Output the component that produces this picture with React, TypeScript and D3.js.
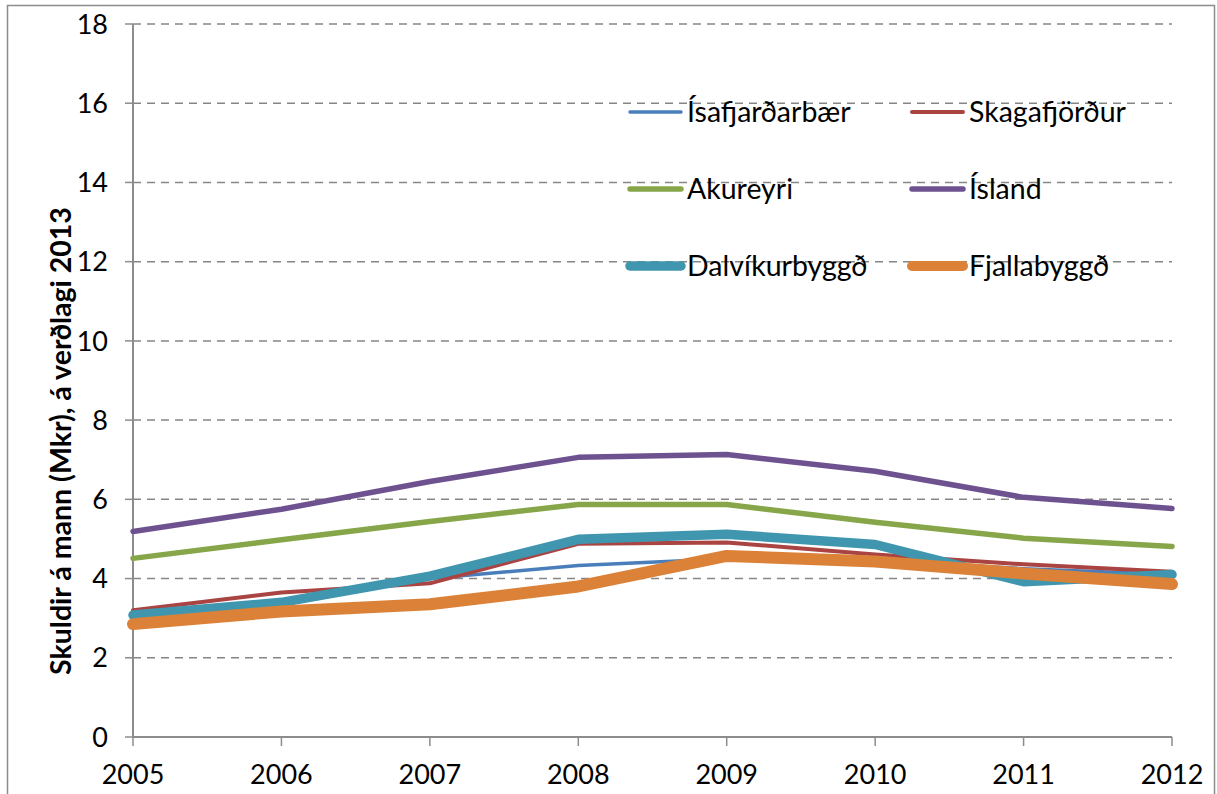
import React from "react";
import * as d3 from "d3";

const years = [2005, 2006, 2007, 2008, 2009, 2010, 2011, 2012];
const yTicks = [0, 2, 4, 6, 8, 10, 12, 14, 16, 18];

const isafjardarbaer = [3.1, 3.45, 4.0, 4.33, 4.5, 4.45, 4.25, 4.1];
const skagafjordur = [3.2, 3.65, 3.88, 4.88, 4.91, 4.61, 4.36, 4.17];
const akureyri = [4.51, 4.98, 5.44, 5.87, 5.87, 5.42, 5.02, 4.81];
const island = [5.19, 5.75, 6.45, 7.06, 7.13, 6.71, 6.05, 5.77];
const dalvikurbyggd = [3.08, 3.4, 4.06, 4.99, 5.12, 4.86, 3.92, 4.1];
const fjallabyggd = [2.85, 3.17, 3.35, 3.8, 4.57, 4.43, 4.13, 3.86];

const series = [
  { name: "Ísafjarðarbær", values: isafjardarbaer, color: "#4a7ebb", width: 3.5 },
  { name: "Skagafjörður", values: skagafjordur, color: "#a94442", width: 4 },
  { name: "Akureyri", values: akureyri, color: "#87a64a", width: 5.5 },
  { name: "Ísland", values: island, color: "#6e5290", width: 5.5 },
  { name: "Dalvíkurbyggð", values: dalvikurbyggd, color: "#3f96ae", width: 9.5 },
  { name: "Fjallabyggð", values: fjallabyggd, color: "#db8238", width: 12 },
];

const font = "Lato, 'Open Sans', sans-serif";

const App = () => {
  const left = 133;
  const right = 1172;
  const top = 24;
  const bottom = 737;

  const x = d3.scaleLinear().domain([2005, 2012]).range([left, right]);
  const y = d3.scaleLinear().domain([0, 18]).range([bottom, top]);

  const line = d3
    .line<number>()
    .x((d, i) => x(years[i]))
    .y((d) => y(d));

  return (
    <svg
      width={1217}
      height={794}
      style={{ position: "absolute", left: 0, top: 0, background: "#fff" }}
    >
      <rect x={7.5} y={5.5} width={1207} height={800} fill="#fff" stroke="#8c8c8c" strokeWidth={1.5} />

      {/* gridlines */}
      {yTicks.slice(1).map((t) => (
        <line
          key={t}
          x1={left}
          x2={right}
          y1={y(t)}
          y2={y(t)}
          stroke="#868686"
          strokeWidth={1.5}
          strokeDasharray="8,6"
        />
      ))}

      {/* y axis */}
      <line x1={left} x2={left} y1={top} y2={bottom} stroke="#8c8c8c" strokeWidth={2} />
      {yTicks.map((t) => (
        <g key={t}>
          <line x1={left - 8} x2={left} y1={y(t)} y2={y(t)} stroke="#8c8c8c" strokeWidth={1.5} />
          <text
            x={108}
            y={y(t)}
            dy="0.36em"
            textAnchor="end"
            fontFamily={font}
            fontSize={27}
            fill="#000"
          >
            {t}
          </text>
        </g>
      ))}

      {/* x axis */}
      <line x1={left} x2={right} y1={bottom} y2={bottom} stroke="#8c8c8c" strokeWidth={2} />
      {years.map((yr) => (
        <g key={yr}>
          <line x1={x(yr)} x2={x(yr)} y1={bottom} y2={bottom + 9} stroke="#8c8c8c" strokeWidth={1.5} />
          <text
            x={x(yr)}
            y={784}
            textAnchor="middle"
            fontFamily={font}
            fontSize={27}
            fill="#000"
          >
            {yr}
          </text>
        </g>
      ))}

      {/* axis title */}
      <text
        transform={`translate(71, 441) rotate(-90)`}
        textAnchor="middle"
        fontFamily={font}
        fontWeight="bold"
        fontSize={28.5}
        fill="#000"
      >
        Skuldir á mann (Mkr), á verðlagi 2013
      </text>

      {/* lines */}
      {series.map((s) => (
        <path
          key={s.name}
          d={line(s.values) || ""}
          fill="none"
          stroke={s.color}
          strokeWidth={s.width}
          strokeLinejoin="round"
          strokeLinecap="round"
        />
      ))}

      {/* legend */}
      {series.map((s, i) => {
        const col = i % 2;
        const row = Math.floor(i / 2);
        const lx = col === 0 ? 630 : 912;
        const ly = 112 + row * 77;
        return (
          <g key={s.name}>
            <line
              x1={lx}
              x2={lx + 51}
              y1={ly}
              y2={ly}
              stroke={s.color}
              strokeWidth={Math.min(s.width, 10)}
              strokeLinecap="round"
            />
            <text
              x={lx + 57}
              y={ly}
              dy="0.36em"
              fontFamily={font}
              fontSize={28.5}
              fill="#000"
            >
              {s.name}
            </text>
          </g>
        );
      })}
    </svg>
  );
};

export default App;
